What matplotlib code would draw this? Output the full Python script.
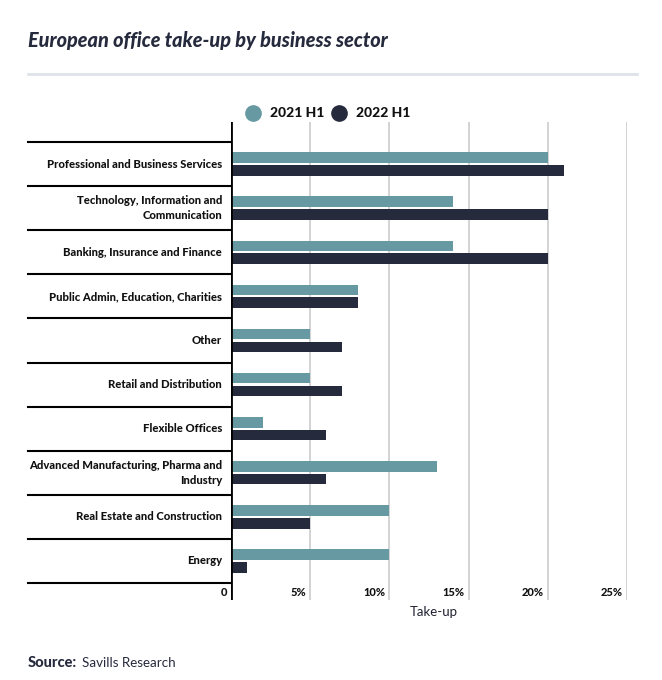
"""
European office take-up by business sector (Savills)
"""
import matplotlib
matplotlib.use("Agg")
import matplotlib.pyplot as plt
from matplotlib.transforms import blended_transform_factory
from matplotlib.lines import Line2D

# data
sectors = [
    "Professional and Business Services",
    "Technology, Information and\nCommunication",
    "Banking, Insurance and Finance",
    "Public Admin, Education, Charities",
    "Other",
    "Retail and Distribution",
    "Flexible Offices",
    "Advanced Manufacturing, Pharma and\nIndustry",
    "Real Estate and Construction",
    "Energy",
]
take_up_2021 = [20, 14, 14, 8, 5, 5, 2, 13, 10, 10]
take_up_2022 = [21, 20, 20, 8, 7, 7, 6, 6, 5, 1]
series_names = ["2021 H1", "2022 H1"]
tick_values = [0, 5, 10, 15, 20, 25]
tick_labels = ["0", "5%", "10%", "15%", "20%", "25%"]

TEAL = "#6699a1"
NAVY = "#262a3d"
TXT = "#111111"
FONT = "Lato"

fig = plt.figure(figsize=(6.62, 6.80), dpi=100)
W, H = 662, 680

ax_left, ax_right, ax_top, ax_bot = 231, 627, 122, 600
ax = fig.add_axes([ax_left / W, 1 - ax_bot / H, (ax_right - ax_left) / W, (ax_bot - ax_top) / H])

ys = list(range(len(sectors)))
bh = 0.24
ax.barh([y - 0.145 for y in ys], take_up_2021, height=bh, color=TEAL, zorder=3)
ax.barh([y + 0.145 for y in ys], take_up_2022, height=bh, color=NAVY, zorder=3)

ax.set_xlim(0, 25)
# category bands 142..583 px, axes 122..600 px
px_per_unit = (583 - 142) / len(sectors)
ax.set_ylim(len(sectors) - 0.5 + (ax_bot - 583) / px_per_unit,
            -0.5 - (142 - ax_top) / px_per_unit)

for s in ax.spines.values():
    s.set_visible(False)
ax.set_xticks([])
ax.set_yticks([])

for v in tick_values[1:]:
    ax.axvline(v, color="#cccccc", lw=1.2, zorder=1)
ax.axvline(0, color="black", lw=2, zorder=4)

# separators in the label column
trans = blended_transform_factory(ax.transAxes, ax.transData)
x0 = (28 - ax_left) / (ax_right - ax_left)
for b in [i - 0.5 for i in range(len(sectors) + 1)]:
    ax.plot([x0, 0], [b, b], color="black", lw=1.5, transform=trans, clip_on=False)

# category labels
for y, name in zip(ys, sectors):
    ax.text(-9 / 15.84, y, name, ha="right", va="center", fontsize=8.1,
            fontweight="black", family=FONT, color=TXT, linespacing=1.4)

# tick labels
tt = blended_transform_factory(ax.transData, ax.transAxes)
for v, lab in zip(tick_values, tick_labels):
    ax.text(v - 4 / 15.84, (ax_bot - 593) / (ax_bot - ax_top), lab, transform=tt,
            ha="right", va="center", fontsize=8, fontweight="black",
            family=FONT, color=TXT)

fig.text(434 / W, 1 - 612 / H, "Take-up", ha="center", va="center",
         fontsize=9.5, family=FONT, color="#222233")

# title + rule
fig.text(28 / W, 1 - 40 / H, "European office take-up by business sector",
         ha="left", va="center", fontsize=14.3, fontweight="black", style="italic",
         family=FONT, color="#262a3d")
fig.add_artist(Line2D([28 / W, 637 / W], [1 - 74 / H, 1 - 74 / H],
                      color="#dde3e8", lw=2))

# legend
for cx, col, lab in zip([253, 339], [TEAL, NAVY], series_names):
    fig.add_artist(Line2D([cx / W], [1 - 113 / H], marker="o", markersize=11,
                          color=col, linestyle="none"))
    fig.text((cx + 17) / W, 1 - 113 / H, lab, ha="left", va="center",
             fontsize=10, fontweight="black", family=FONT, color=TXT)

# source
fig.text(28 / W, 1 - 663 / H, "Source:", ha="left", va="center",
         fontsize=10.5, fontweight="black", family=FONT, color="#262a3d")
fig.text(82 / W, 1 - 663 / H, "Savills Research", ha="left", va="center",
         fontsize=9.6, family=FONT, color="#262a3d")

fig.savefig("out.png", dpi=100, facecolor="white")
